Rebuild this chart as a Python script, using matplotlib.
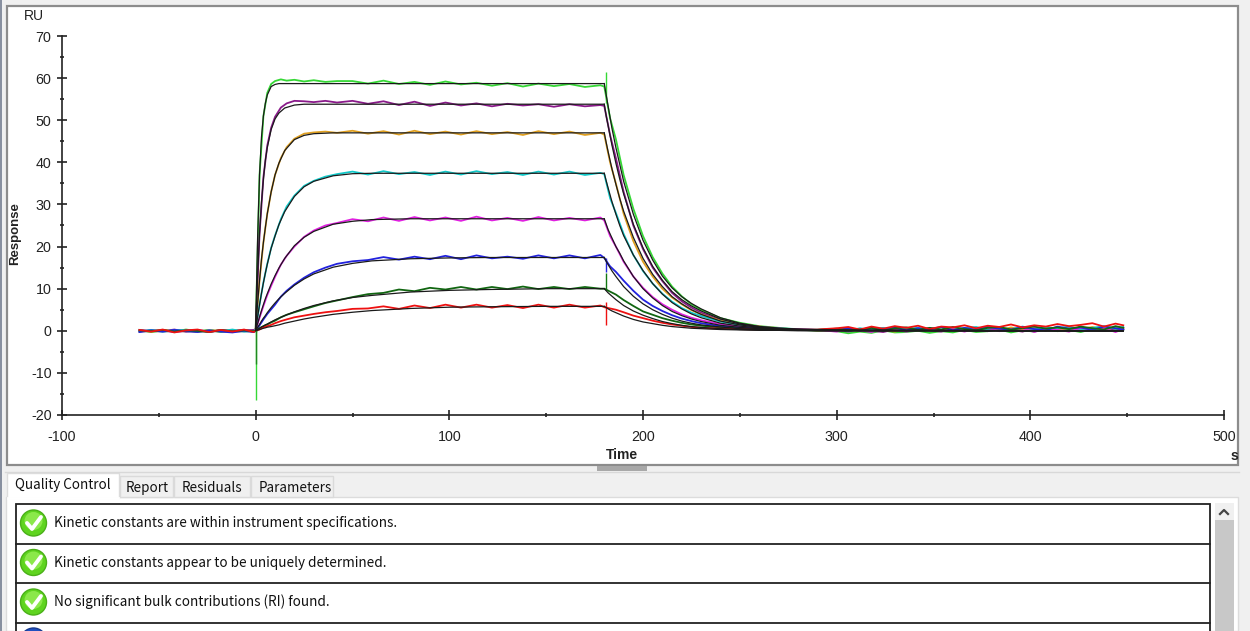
import matplotlib
matplotlib.use("Agg")
import matplotlib.pyplot as plt
from matplotlib.patches import Circle, Rectangle

plt.rcParams['font.family'] = ['Liberation Sans', 'DejaVu Sans']
plt.rcParams['axes.unicode_minus'] = False

# fitted curves, association phase
t_on = [0, 1, 2, 3, 4, 5, 6, 8, 10, 12, 15, 20, 25, 30, 40, 50, 60, 80, 100, 120, 150, 180]
fit_on_1 = [0.5, 22, 37, 46, 51, 54, 56, 58, 58.5, 58.7, 58.7, 58.7, 58.7, 58.7, 58.7, 58.7, 58.7, 58.7, 58.7, 58.7, 58.7, 58.7]
fit_on_2 = [0.4, 13, 23, 30.5, 36, 40.5, 43.5, 47.8, 50.3, 51.7, 52.9, 53.6, 53.8, 53.8, 53.8, 53.8, 53.8, 53.8, 53.8, 53.8, 53.8, 53.8]
fit_on_3 = [0.3, 6.5, 12, 17, 21, 24.5, 27.8, 33, 37, 39.8, 42.8, 45.4, 46.4, 46.8, 47, 47, 47, 47, 47, 47, 47, 47]
fit_on_4 = [0.2, 3.3, 6.2, 8.9, 11.4, 13.7, 15.8, 19.6, 22.5, 25.2, 28.3, 31.9, 34.2, 35.5, 36.8, 37.3, 37.4, 37.4, 37.4, 37.4, 37.4, 37.4]
fit_on_5 = [0.2, 1.7, 3.3, 4.8, 6.2, 7.6, 8.8, 11.1, 13.1, 14.9, 17.2, 20.2, 22.2, 23.6, 25.3, 26, 26.4, 26.6, 26.6, 26.6, 26.6, 26.6]
fit_on_6 = [0.1, 0.8, 1.5, 2.3, 3, 3.6, 4.3, 5.5, 6.6, 7.6, 8.9, 10.8, 12.3, 13.5, 15.1, 16, 16.6, 17.1, 17.3, 17.4, 17.4, 17.4]
fit_on_7 = [0.1, 0.3, 0.6, 0.9, 1.1, 1.4, 1.6, 2.1, 2.6, 3, 3.6, 4.5, 5.3, 6, 7.1, 7.9, 8.4, 9.2, 9.6, 9.8, 10, 10]
fit_on_8 = [0, 0.15, 0.3, 0.45, 0.6, 0.7, 0.85, 1, 1.2, 1.4, 1.8, 2.3, 2.8, 3.2, 3.9, 4.4, 4.8, 5.3, 5.6, 5.7, 5.8, 5.8]

# fitted curves, dissociation phase
t_off = [180, 181, 182, 184, 186, 188, 190, 195, 200, 205, 210, 215, 220, 225, 230, 240, 250, 260, 270, 280, 300, 448]
fit_off_1 = [58.7, 56, 53.3, 48, 43.5, 39.5, 35.5, 27.7, 21.5, 16.8, 13, 10.2, 8.1, 6.5, 5.2, 3.1, 1.8, 1, 0.6, 0.4, 0.1, 0]
fit_off_2 = [53.8, 51, 48.7, 44, 39.8, 36, 32.5, 25.3, 19.7, 15.3, 12, 9.3, 7.4, 5.9, 4.7, 2.8, 1.6, 1, 0.6, 0.3, 0.1, 0]
fit_off_3 = [47, 44.7, 42.5, 38.4, 34.8, 31.4, 28.4, 22.2, 17.2, 13.4, 10.5, 8.1, 6.4, 5, 3.9, 2.3, 1.4, 0.8, 0.5, 0.3, 0.1, 0]
fit_off_4 = [37.4, 35.6, 33.9, 30.6, 27.7, 25, 22.6, 18, 14.3, 11.2, 8.7, 6.7, 5.2, 4, 3.1, 1.8, 1.1, 0.7, 0.4, 0.2, 0.1, 0]
fit_off_5 = [26.6, 25.3, 24, 22, 20, 18.4, 16.6, 12.9, 10, 7.8, 6, 4.6, 3.6, 2.8, 2.2, 1.3, 0.8, 0.5, 0.3, 0.2, 0.1, 0]
fit_off_6 = [17.4, 16.5, 15.7, 14.2, 12.9, 11.7, 10.5, 8.2, 6.4, 5, 3.9, 3, 2.3, 1.8, 1.4, 0.9, 0.5, 0.3, 0.2, 0.1, 0, 0]
fit_off_7 = [10, 9.5, 9, 8.2, 7.4, 6.7, 6, 4.7, 3.7, 2.9, 2.2, 1.7, 1.3, 1, 0.8, 0.5, 0.3, 0.2, 0.1, 0.1, 0, 0]
fit_off_8 = [5.8, 5.5, 5.2, 4.7, 4.3, 3.9, 3.5, 2.7, 2.1, 1.7, 1.3, 1, 0.8, 0.6, 0.5, 0.3, 0.2, 0.1, 0.1, 0, 0, 0]

# measured traces
t_raw = [-60, -54, -48, -42, -36, -30, -24, -18, -12, -6, -1,
         0, 2, 4, 6, 8, 10, 13, 16, 20, 25, 30, 36, 42, 50, 58, 66, 74, 82, 90, 98, 106, 114, 122, 130, 138, 146, 154, 162, 170, 178,
         180, 183, 186, 190, 195, 200, 205, 210, 215, 220, 225, 230, 240, 250, 260, 270, 280, 290,
         300, 306, 312, 318, 324, 330, 336, 342, 348, 354, 360, 366, 372, 378, 384, 390, 396, 402, 408, 414, 420, 426, 432, 438, 444, 448]
raw_green = [0.2, -0.3, 0.1, -0.2, 0.3, -0.1, 0.2, -0.3, 0.1, 0.2, -0.1,
             0.5, 37, 51, 56.5, 58.6, 59.3, 59.7, 59.4, 59.6, 59.2, 59.5, 59.1, 59.3, 59.3, 58.7, 59.4, 58.6, 59.1, 58.4, 59.2, 58.5, 58.9, 58.2, 58.8, 58, 58.7, 58.1, 58.6, 57.9, 58.3,
             58, 50.5, 45.5, 37, 29, 22.5, 17.5, 13.6, 10.5, 8.2, 6.3, 5, 3, 1.9, 1.1, 0.7, 0.3, 0,
             -0.1, -0.6, -0.2, -0.5, 0.1, -0.4, -0.3, 0, -0.5, -0.1, -0.4, 0.2, -0.3, -0.1, 0.3, -0.4, 0.1, -0.2, 0.4, -0.1, 0.2, -0.3, 0.4, 0, 0.3, 0.2]
raw_purple = [-0.2, 0.2, -0.1, 0.3, -0.2, 0.1, -0.3, 0.2, -0.1, 0.1, 0.2,
              0.4, 23, 36.5, 44, 48.2, 50.8, 53, 54, 54.6, 54.5, 54.3, 54.6, 54.2, 54.6, 53.9, 54.5, 53.6, 54.4, 53.4, 54.2, 53.5, 54, 53.3, 53.9, 53.5, 53.8, 53.2, 53.8, 53.3, 53.6,
              53.4, 46.5, 41, 33, 25, 19.4, 15, 11.8, 9, 7, 5.5, 4.3, 2.6, 1.6, 1, 0.6, 0.3, 0.1,
              0.3, -0.2, 0.4, 0, -0.3, 0.3, -0.1, 0.4, 0.1, -0.2, 0.5, 0.1, 0.4, -0.1, 0.5, 0.2, -0.2, 0.6, 0.1, 0.4, -0.1, 0.6, 0.2, 0, 0.6, 0.3]
raw_orange = [0.1, -0.2, 0.2, -0.1, 0.1, -0.3, 0.2, 0, -0.2, 0.1, -0.2,
              0.3, 12, 21, 27.8, 33, 37, 41, 43.6, 45.6, 46.8, 47.1, 47.3, 47, 47.5, 46.8, 47.4, 46.6, 47.5, 46.7, 47.3, 46.6, 47.4, 46.7, 47.2, 46.5, 47.4, 46.7, 47.3, 46.5, 47,
              46.6, 40, 35, 27.8, 21.3, 16.4, 12.9, 10, 7.9, 6.3, 4.9, 3.9, 2.4, 1.5, 1, 0.6, 0.3, 0.1,
              0.1, 0.5, -0.1, 0.4, 0.2, -0.2, 0.5, 0.1, 0.6, 0.2, 0.7, 0, 0.6, 0.3, 0.1, 0.8, 0.3, 0.5, 0.9, 0.2, 0.7, 0.4, 0.9, 0.3, 0.8, 0.6]
raw_cyan = [-0.1, 0.2, -0.2, 0.1, 0.2, -0.2, 0.1, -0.1, 0.3, -0.2, 0,
            0.2, 6.2, 11.5, 15.9, 19.7, 22.6, 26.5, 29.5, 32.1, 34.4, 35.6, 36.6, 37.2, 37.8, 37.1, 37.9, 37.2, 37.7, 37, 37.8, 37.1, 37.9, 37.2, 37.7, 37, 37.8, 37.1, 37.8, 37, 37.5,
            37.2, 31.5, 28, 23, 18, 14.2, 11.2, 8.8, 6.9, 5.4, 4.3, 3.5, 2.2, 1.4, 0.9, 0.6, 0.4, 0.3,
            0.4, 0, 0.6, 0.2, 0.7, 0.1, 0.5, 0.7, 0.2, 0.8, 0.3, 0.6, 0.9, 0.2, 0.7, 0.4, 1, 0.3, 0.8, 0.6, 1, 0.3, 0.7, 1.1, 0.5, 0.9]
raw_magenta = [0.2, -0.1, 0.1, -0.3, 0, 0.2, -0.2, 0.1, -0.1, 0.2, -0.2,
               0.2, 3.1, 5.9, 8.5, 10.7, 12.8, 15.7, 17.8, 20, 22.3, 23.8, 25, 25.6, 26.5, 26, 26.9, 26.1, 27, 26.2, 26.9, 26.1, 27.1, 26.2, 26.8, 26.1, 27, 26.2, 26.8, 26.2, 26.9,
               26.2, 22.5, 20, 16.4, 12.9, 10.2, 8, 6.3, 5, 3.9, 3.1, 2.5, 1.6, 1, 0.7, 0.5, 0.3, 0.2,
               -0.2, 0.4, 0.1, -0.3, 0.5, 0.2, -0.2, 0.3, 0.6, -0.1, 0.4, -0.2, 0.5, 0.7, -0.1, 0.4, 0.6, -0.3, 0.5, 0.2, -0.2, 0.7, 0.3, 0.6, -0.3, 0.4]
raw_blue = [-0.3, 0.1, -0.2, 0.2, -0.1, -0.3, 0.1, -0.2, -0.4, 0, -0.3,
            0.1, 1.3, 2.7, 4, 5.1, 6.2, 8.1, 9.5, 11, 12.6, 13.9, 15, 15.9, 16.5, 16.8, 17.5, 16.9, 17.6, 17, 17.8, 17, 17.9, 17.2, 17.6, 17.1, 17.9, 17.2, 17.9, 17.2, 18,
            17.3, 15.3, 14, 11.9, 9.5, 7.4, 5.9, 4.7, 3.7, 2.9, 2.3, 1.8, 1.1, 0.7, 0.5, 0.4, 0.3, 0.2,
            0.2, 0.6, 0, 0.7, 0.3, 0.8, 0.1, 0.6, 0.4, 0.9, 0.1, 0.7, 0.2, 0.9, 0.5, 0.2, 0.9, 0.4, 0.1, 1, 0.5, 0.8, 0.2, 1, 0.6, 0.3]
raw_dkgreen = [0.1, -0.1, 0.2, -0.2, 0.1, 0, -0.3, 0.2, -0.1, 0.1, -0.1,
               0.1, 0.6, 1.1, 1.5, 2, 2.4, 3.2, 3.8, 4.4, 5.1, 5.8, 6.6, 7.2, 8, 8.7, 9, 9.8, 9.4, 10.2, 9.8, 10.4, 9.8, 10.4, 9.9, 10.5, 9.9, 10.4, 9.9, 10.4, 10,
               10, 9.3, 8.6, 7.3, 5.9, 4.6, 3.8, 3, 2.4, 1.9, 1.5, 1.2, 0.8, 0.5, 0.4, 0.3, 0.2, 0.2,
               0.5, 0.1, 0.3, 0.7, 0, 0.6, 0.8, 0.2, 0.7, 0.3, 0.9, 0.4, 0.1, 0.7, 0.9, 0.3, 0.6, 1, 0.5, 0.8, 0.4, 1, 0.6, 0.3, 1.1, 0.7]
raw_red = [0.2, -0.2, 0.3, -0.4, 0.1, 0.3, -0.3, 0.2, -0.2, 0.3, -0.3,
           0, 0.3, 0.8, 1.1, 1.4, 1.8, 2.3, 2.7, 3.2, 3.6, 4, 4.4, 4.7, 5.2, 5.3, 5.8, 5.2, 6, 5.4, 6.2, 5.5, 6.2, 5.5, 6.1, 5.4, 6.2, 5.5, 6.2, 5.5, 6,
           5.6, 5.3, 5, 4.4, 3.6, 3, 2.4, 1.9, 1.5, 1.2, 0.9, 0.7, 0.5, 0.4, 0.3, 0.3, 0.3, 0.3,
           0.6, 0.9, 0.3, 1, 0.5, 1.1, 0.7, 1.2, 0.4, 1, 0.8, 1.3, 0.6, 1.2, 0.9, 1.5, 0.8, 1.3, 1, 1.6, 1.1, 1.4, 1.8, 1, 1.7, 1.3]

# injection artefacts: time, low, high
spike_t = [0.3, 0.3, 181, 181, 181, 181]
spike_lo = [-16.4, -8, 54, 14, 9.7, 1.4]
spike_hi = [1, 1, 61.5, 17.3, 13.8, 6.9]
spike_col = ['#35d835', '#208a20', '#35d835', '#2222dd', '#117711', '#ee1111']

raw_series = [raw_green, raw_purple, raw_orange, raw_cyan, raw_magenta, raw_blue, raw_dkgreen, raw_red]
raw_colors = ['#35d835', '#8a1a8a', '#e0a020', '#10c8c8', '#e020e0', '#2222dd', '#116611', '#ee1111']
fits_on = [fit_on_1, fit_on_2, fit_on_3, fit_on_4, fit_on_5, fit_on_6, fit_on_7, fit_on_8]
fits_off = [fit_off_1, fit_off_2, fit_off_3, fit_off_4, fit_off_5, fit_off_6, fit_off_7, fit_off_8]

x_ticks = [-100, 0, 100, 200, 300, 400, 500]
y_ticks = [-20, -10, 0, 10, 20, 30, 40, 50, 60, 70]

# text of the lower panel
tab_names = ['Quality Control', 'Report', 'Residuals', 'Parameters']
qc_messages = ['Kinetic constants are within instrument specifications.',
               'Kinetic constants appear to be uniquely determined.',
               'No significant bulk contributions (RI) found.']

W, H = 1250, 631
fig = plt.figure(figsize=(W / 100, H / 100), dpi=100, facecolor='#f0f0f0')

# window chrome in pixel coordinates
bg = fig.add_axes([0, 0, 1, 1])
bg.set_xlim(0, W)
bg.set_ylim(H, 0)
bg.axis('off')
bg.add_patch(Rectangle((0, 0), 2, H, fc='#8890a0', ec='none'))
bg.add_patch(Rectangle((6.5, 5.5), 1231, 459, fc='white', ec='#8c8c8c', lw=1.6))
bg.add_patch(Rectangle((597, 466), 50, 5, fc='#a8a8a8', ec='none'))
bg.plot([5, 1239], [472, 472], color='#d8d8d8', lw=1)

# tabs
bg.add_patch(Rectangle((6, 497), 1232, 134, fc='white', ec='#dcdcdc', lw=1))
tab_x = [7, 120, 174, 251, 334]
for i in range(1, 4):
    bg.add_patch(Rectangle((tab_x[i], 476), tab_x[i + 1] - tab_x[i] - 1, 21, fc='#f0f0f0', ec='#dadada', lw=1))
bg.add_patch(Rectangle((tab_x[0], 473), 112, 25, fc='white', ec='#dcdcdc', lw=1, zorder=3))
bg.plot([8, 118], [498, 498], color='white', lw=2, zorder=4)
label_x = [15, 126, 182, 259]
label_y = [485, 488, 488, 488]
for name, lx, ly in zip(tab_names, label_x, label_y):
    bg.text(lx, ly, name, fontsize=9.7, family=['Noto Sans CJK JP', 'DejaVu Sans'], va='center', color='#111111', zorder=5)

# rows of the quality control list
bg.add_patch(Rectangle((15.5, 503.5), 1194, 140, fc='white', ec='#222222', lw=1.3))
for yy in [543.5, 583, 622.5]:
    bg.plot([15.5, 1209.5], [yy, yy], color='#222222', lw=1.3)
row_y = [523, 562.5, 602]
for msg, yy in zip(qc_messages, row_y):
    bg.add_patch(Circle((33.5, yy), 13, fc='#5fd41f', ec='#4ab018', lw=1))
    bg.add_patch(Circle((33.5, yy - 2), 9, fc='#8be84a', ec='none'))
    bg.plot([27, 32, 41], [yy, yy + 6, yy - 6], color='white', lw=2.8, solid_capstyle='round')
    bg.text(54, yy, msg, fontsize=9.75, family=['Noto Sans CJK JP', 'DejaVu Sans'], va='center', color='#111111')
bg.add_patch(Circle((33.5, 641), 13, fc='#2050c0', ec='#183a90', lw=1))

# scrollbar
bg.add_patch(Rectangle((1215, 503), 19, 128, fc='#f0f0f0', ec='none'))
bg.add_patch(Rectangle((1215, 520), 19, 111, fc='#c8c8c8', ec='none'))
bg.plot([1220, 1224, 1228], [514, 510, 514], color='#444444', lw=1.6)

# sensorgram
ax = fig.add_axes([62 / W, 1 - 415 / H, (1224 - 62) / W, (415 - 36) / H])
ax.patch.set_alpha(0)
ax.plot([-60, 0], [0, 0], color='#111111', lw=1, zorder=1)
for vals, col in zip(raw_series, raw_colors):
    ax.plot(t_raw, vals, color=col, lw=1.3, zorder=2)
ax.vlines(spike_t, spike_lo, spike_hi, colors=spike_col, lw=1, zorder=2)
for on_vals, off_vals in zip(fits_on, fits_off):
    ax.plot(t_on, on_vals, color='#1a1a1a', lw=0.9, zorder=3)
    ax.plot(t_off, off_vals, color='#1a1a1a', lw=0.9, zorder=3)

ax.set_xlim(-100, 500)
ax.set_ylim(-20, 70)
ax.set_xticks(x_ticks)
ax.set_yticks(y_ticks)
ax.set_xticks([v + 50 for v in x_ticks[:-1]], minor=True)
ax.set_yticks([v + 5 for v in y_ticks[:-1]], minor=True)
ax.tick_params(which='major', direction='inout', length=7, width=1.2, color='#222222', labelsize=10.3, labelcolor='#222222', pad=7)
ax.tick_params(which='minor', direction='inout', length=3, width=1.2, color='#222222')
ax.tick_params(axis='y', which='major', pad=4)
ax.spines['top'].set_visible(False)
ax.spines['right'].set_visible(False)
ax.spines['left'].set_linewidth(1.2)
ax.spines['bottom'].set_linewidth(1.2)
ax.spines['left'].set_color('#222222')
ax.spines['bottom'].set_color('#222222')

bg.text(24, 16, 'RU', fontsize=10, ha='left', va='center', color='#222222')
bg.text(15.5, 234, 'Response', fontsize=9.5, fontweight='bold', rotation=90, ha='center', va='center', color='#222222')
bg.text(622, 455, 'Time', fontsize=10, fontweight='bold', ha='center', va='center', color='#222222')
bg.text(1234, 456, 's', fontsize=10, fontweight='bold', ha='center', va='center', color='#222222')

fig.savefig('out.png', dpi=100)
